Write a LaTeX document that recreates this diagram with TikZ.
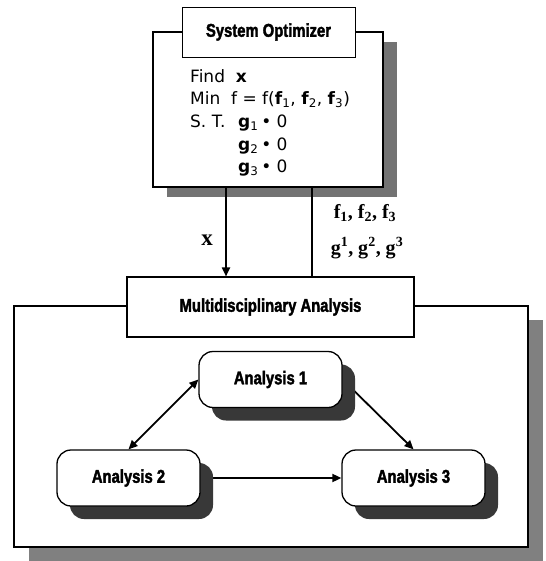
\documentclass[tikz,border=0pt]{standalone}
\usepackage{fontspec}
\setmainfont{DejaVu Sans}
\newfontfamily\headfont[FakeStretch=0.8,FakeBold=2]{Liberation Sans}
\newfontfamily\labfont{Liberation Serif}
\usetikzlibrary{arrows.meta,shadows,backgrounds}

\tikzset{
  x=1pt, y=-1pt,
  frame/.style={draw=black, line width=1.3pt, fill=white, inner sep=0pt},
  boxshadow/.style={drop shadow={shadow xshift=14pt, shadow yshift=-10pt, fill=black!55, opacity=1}},
  headtext/.style={font=\headfont\bfseries\fontsize{18.5}{20}\selectfont},
  titlebox/.style={draw, line width=0.9pt, fill=white, headtext, inner sep=0pt},
  analysis/.style={draw, line width=1.3pt, rounded corners=14pt, fill=white,
    minimum width=143pt, minimum height=56pt, headtext,
    drop shadow={shadow xshift=13pt, shadow yshift=-13pt, fill=black!78, opacity=1}},
  body/.style={anchor=base west, inner sep=0pt, font=\fontsize{17}{19}\selectfont},
  flow/.style={line width=1.8pt, -{Triangle[length=9pt,width=8pt]}},
  link/.style={line width=1.8pt},
  label/.style={inner sep=0pt, font=\labfont\bfseries\fontsize{20}{22}\selectfont}
}

\begin{document}
\begin{tikzpicture}
\useasboundingbox (0,0) rectangle (545,561);

% system optimizer block
\node[frame, boxshadow, minimum width=230pt, minimum height=155pt] (opt) at (268,109.5) {};
\node[titlebox, minimum width=173pt, minimum height=50pt] (title) at (268.5,32) {System Optimizer};

\node[body] (find) at (190,83) {Find\ \ \textbf{x}};
\node[body] (minf) at (190,105) {Min\ \ f = f(\textbf{f}\textsubscript{1}, \textbf{f}\textsubscript{2}, \textbf{f}\textsubscript{3})};
\node[body] (st) at (190,128) {S. T.};
\node[body] (g1) at (238,128) {\textbf{g}\textsubscript{1}\,•\ 0};
\node[body] (g2) at (238,151) {\textbf{g}\textsubscript{2}\,•\ 0};
\node[body] (g3) at (238,173) {\textbf{g}\textsubscript{3}\,•\ 0};

% analysis block
\node[titlebox, line width=1.1pt, minimum width=287pt, minimum height=60pt] (mda) at (270.5,307) {Multidisciplinary Analysis};

\node[analysis] (a1) at (270.5,379.5) {Analysis 1};
\node[analysis] (a2) at (128.5,478) {Analysis 2};
\node[analysis] (a3) at (413.5,478) {Analysis 3};

% links between optimizer and analysis
\coordinate (xdown) at (226,0);
\coordinate (fup) at (312,0);
\draw[flow] (opt.south -| xdown) -- (mda.north -| xdown);
\draw[link] (mda.north -| fup) -- (opt.south -| fup);

\node[label, font=\labfont\bfseries\fontsize{23}{24}\selectfont] (xlab) at (207,240) {x};
\node[label] (flab) at (365,213) {f\textsubscript{1}, f\textsubscript{2}, f\textsubscript{3}};
\node[label] (glab) at (367,248) {g\textsuperscript{1}, g\textsuperscript{2}, g\textsuperscript{3}};

\begin{pgfonlayer}{background}
  \node[frame, line width=1.2pt, minimum width=514pt, minimum height=241pt,
        drop shadow={shadow xshift=15pt, shadow yshift=-14pt, fill=black!50, opacity=1}] (outer) at (271,426.5) {};
  \draw[flow, {Triangle[length=9pt,width=8pt]}-{Triangle[length=9pt,width=8pt]}] (a1.west) -- (a2.north);
  \draw[flow] (a1.east) -- (a3.north);
  \draw[flow] (a2.east) -- (a3.west);
\end{pgfonlayer}
\end{tikzpicture}
\end{document}
